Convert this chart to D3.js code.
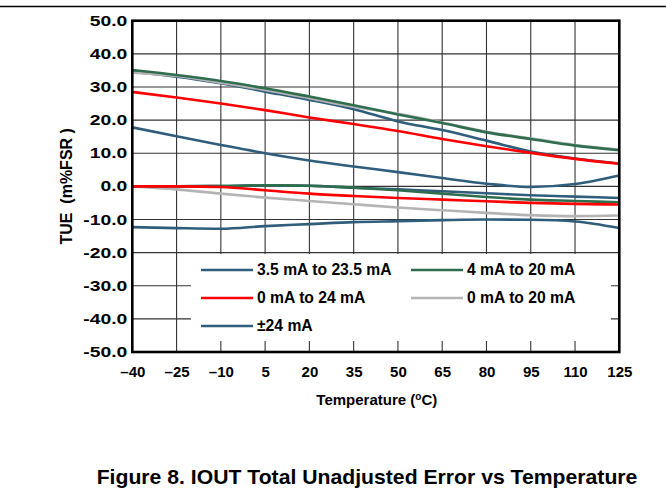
<!DOCTYPE html>
<html>
<head>
<meta charset="utf-8">
<script src="https://cdn.jsdelivr.net/npm/d3@7"></script>
<style>
  html, body { margin: 0; padding: 0; background: #fff; }
  svg { display: block; }
  text { font-family: "Liberation Sans", Arial, sans-serif; font-weight: bold; fill: #000; }
</style>
</head>
<body>
<div id="chart"></div>
<script>
// ---------- data ----------
const temperatures = [-40, -25, -10, 5, 20, 35, 50, 65, 80, 95, 110, 125];
const xTickLabels = ["\u201340", "\u201325", "\u201310", "5", "20", "35", "50", "65", "80", "95", "110", "125"];
const yTicks = [50, 40, 30, 20, 10, 0, -10, -20, -30, -40, -50];
const yTickLabels = ["50.0", "40.0", "30.0", "20.0", "10.0", "0.0", "-10.0", "-20.0", "-30.0", "-40.0", "-50.0"];

const range35to235_a = [34.5, 33.1, 31.1, 28.6, 26.1, 23.3, 19.6, 17.0, 13.8, 10.5, 8.4, 6.9];
const range35to235_b = [0, 0, 0.1, 0.3, 0.2, -0.4, -0.9, -1.5, -2.1, -2.7, -3.1, -3.5];
const range4to20_a   = [35.1, 33.6, 31.8, 29.6, 27.1, 24.5, 21.7, 19.1, 16.3, 14.3, 12.3, 10.9];
const range4to20_b   = [0, 0, 0.1, 0.3, 0.2, -0.4, -1.2, -2.2, -3.2, -4.0, -4.4, -4.8];
const range0to24_a   = [28.5, 26.8, 25.0, 23.0, 20.8, 18.8, 16.7, 14.3, 12.1, 10.1, 8.3, 6.8];
const range0to24_b   = [0, 0, -0.2, -1.2, -2.2, -2.9, -3.5, -4.0, -4.5, -5.0, -5.3, -5.5];
const range0to20_a   = [34.3, 33.3, 31.3, 29.1, 26.6, 24.0, 21.9, 19.3, 16.5, 14.5, 12.5, 11.1];
const range0to20_b   = [0, -0.9, -2.2, -3.4, -4.4, -5.4, -6.4, -7.2, -8.0, -8.7, -9.0, -8.8];
const bipolar24_a    = [17.8, 15.1, 12.5, 10.0, 7.8, 6.0, 4.3, 2.5, 0.8, -0.2, 0.7, 3.3];
const bipolar24_b    = [-12.3, -12.6, -12.8, -12.0, -11.4, -10.8, -10.5, -10.2, -10.0, -10.1, -10.6, -12.6];

const seriesNames = ["3.5 mA to 23.5 mA", "4 mA to 20 mA", "0 mA to 24 mA", "0 mA to 20 mA", "\u00b124 mA"];
const seriesColors = ["#2f5d7c", "#2e6e4e", "#ff0000", "#b4b4b4", "#2f5d7c"];
const seriesData = [
  [range35to235_a, range35to235_b],
  [range4to20_a, range4to20_b],
  [range0to24_a, range0to24_b],
  [range0to20_a, range0to20_b],
  [bipolar24_a, bipolar24_b]
];
// draw order (bottom to top)
const drawOrder = [4, 0, 3, 1, 2];

// ---------- layout ----------
const W = 666, H = 494;
const plot = { left: 132.3, right: 619.3, top: 20.7, bottom: 352 };

const svg = d3.select("#chart").append("svg").attr("width", W).attr("height", H);

const x = d3.scaleLinear().domain([-40, 125]).range([plot.left, plot.right]);
const y = d3.scaleLinear().domain([-50, 50]).range([plot.bottom, plot.top]);

// top rule
svg.append("line").attr("x1", 0).attr("x2", W).attr("y1", 6.5).attr("y2", 6.5)
  .attr("stroke", "#000").attr("stroke-width", 1.6);

// grid
const gridG = svg.append("g");
gridG.selectAll("line.v").data(temperatures).enter().append("line")
  .attr("x1", d => x(d)).attr("x2", d => x(d))
  .attr("y1", plot.top).attr("y2", plot.bottom)
  .attr("stroke", "#333").attr("stroke-width", 1.1);
gridG.selectAll("line.h").data(yTicks).enter().append("line")
  .attr("x1", plot.left).attr("x2", plot.right)
  .attr("y1", d => y(d)).attr("y2", d => y(d))
  .attr("stroke", "#333").attr("stroke-width", 1.1);

// curves
const line = d3.line().x((d, i) => x(temperatures[i])).y(d => y(d)).curve(d3.curveMonotoneX);
const curveG = svg.append("g");
drawOrder.forEach(si => {
  seriesData[si].forEach(arr => {
    curveG.append("path").datum(arr).attr("d", line)
      .attr("fill", "none").attr("stroke", seriesColors[si]).attr("stroke-width", 2.6)
      .attr("stroke-linejoin", "round");
  });
});

// legend box (covers grid)
const lg = svg.append("g");
lg.append("rect").attr("x", 191).attr("y", 254).attr("width", 420).attr("height", 87).attr("fill", "#fff");
const legendPos = [
  { lx: 201, ly: 270 }, { lx: 411, ly: 270 },
  { lx: 201, ly: 298 }, { lx: 411, ly: 298 },
  { lx: 201, ly: 326 }
];
seriesNames.forEach((name, i) => {
  const p = legendPos[i];
  lg.append("line").attr("x1", p.lx).attr("x2", p.lx + 52).attr("y1", p.ly).attr("y2", p.ly)
    .attr("stroke", seriesColors[i]).attr("stroke-width", 2.6);
  lg.append("text").attr("x", p.lx + 56).attr("y", p.ly).attr("dy", "0.35em")
    .style("font-size", "15.7px").text(name);
});

// frame
svg.append("rect").attr("x", plot.left).attr("y", plot.top)
  .attr("width", plot.right - plot.left).attr("height", plot.bottom - plot.top)
  .attr("fill", "none").attr("stroke", "#000").attr("stroke-width", 2.6);

// y tick labels (wide glyphs, as in the reference)
const yg = svg.append("g");
yg.selectAll("text").data(yTicks).enter().append("text")
  .attr("transform", d => `translate(${plot.left - 5},${y(d)}) scale(1.38,1)`)
  .attr("text-anchor", "end").attr("dy", "0.36em")
  .style("font-size", "14px")
  .text((d, i) => yTickLabels[i]);

// x tick labels via axis
const xAxis = d3.axisBottom(x).tickValues(temperatures).tickSize(0).tickPadding(14)
  .tickFormat((d, i) => xTickLabels[i]);
const xg = svg.append("g").attr("transform", `translate(0,${plot.bottom})`).call(xAxis);
xg.select(".domain").remove();
xg.selectAll("text").style("font-size", "15px").style("font-family", null).attr("fill", "#000");

// axis titles
const yt = svg.append("text").attr("transform", `translate(72,${(plot.top + plot.bottom) / 2}) rotate(-90)`)
  .attr("text-anchor", "middle").style("font-size", "16px");
yt.text("TUE\u00a0\u00a0(m%FSR\u00a0)");

const xt = svg.append("text").attr("x", (plot.left + plot.right) / 2 + 1).attr("y", 405)
  .attr("text-anchor", "middle").style("font-size", "15px");
xt.append("tspan").text("Temperature (");
xt.append("tspan").attr("dy", -5).style("font-size", "10px").text("o");
xt.append("tspan").attr("dy", 5).text("C)");

// caption
svg.append("text").attr("transform", "translate(367,484) scale(1.06,1)").attr("text-anchor", "middle")
  .style("font-size", "20px").text("Figure 8. IOUT Total Unadjusted Error vs Temperature");
</script>
</body>
</html>
